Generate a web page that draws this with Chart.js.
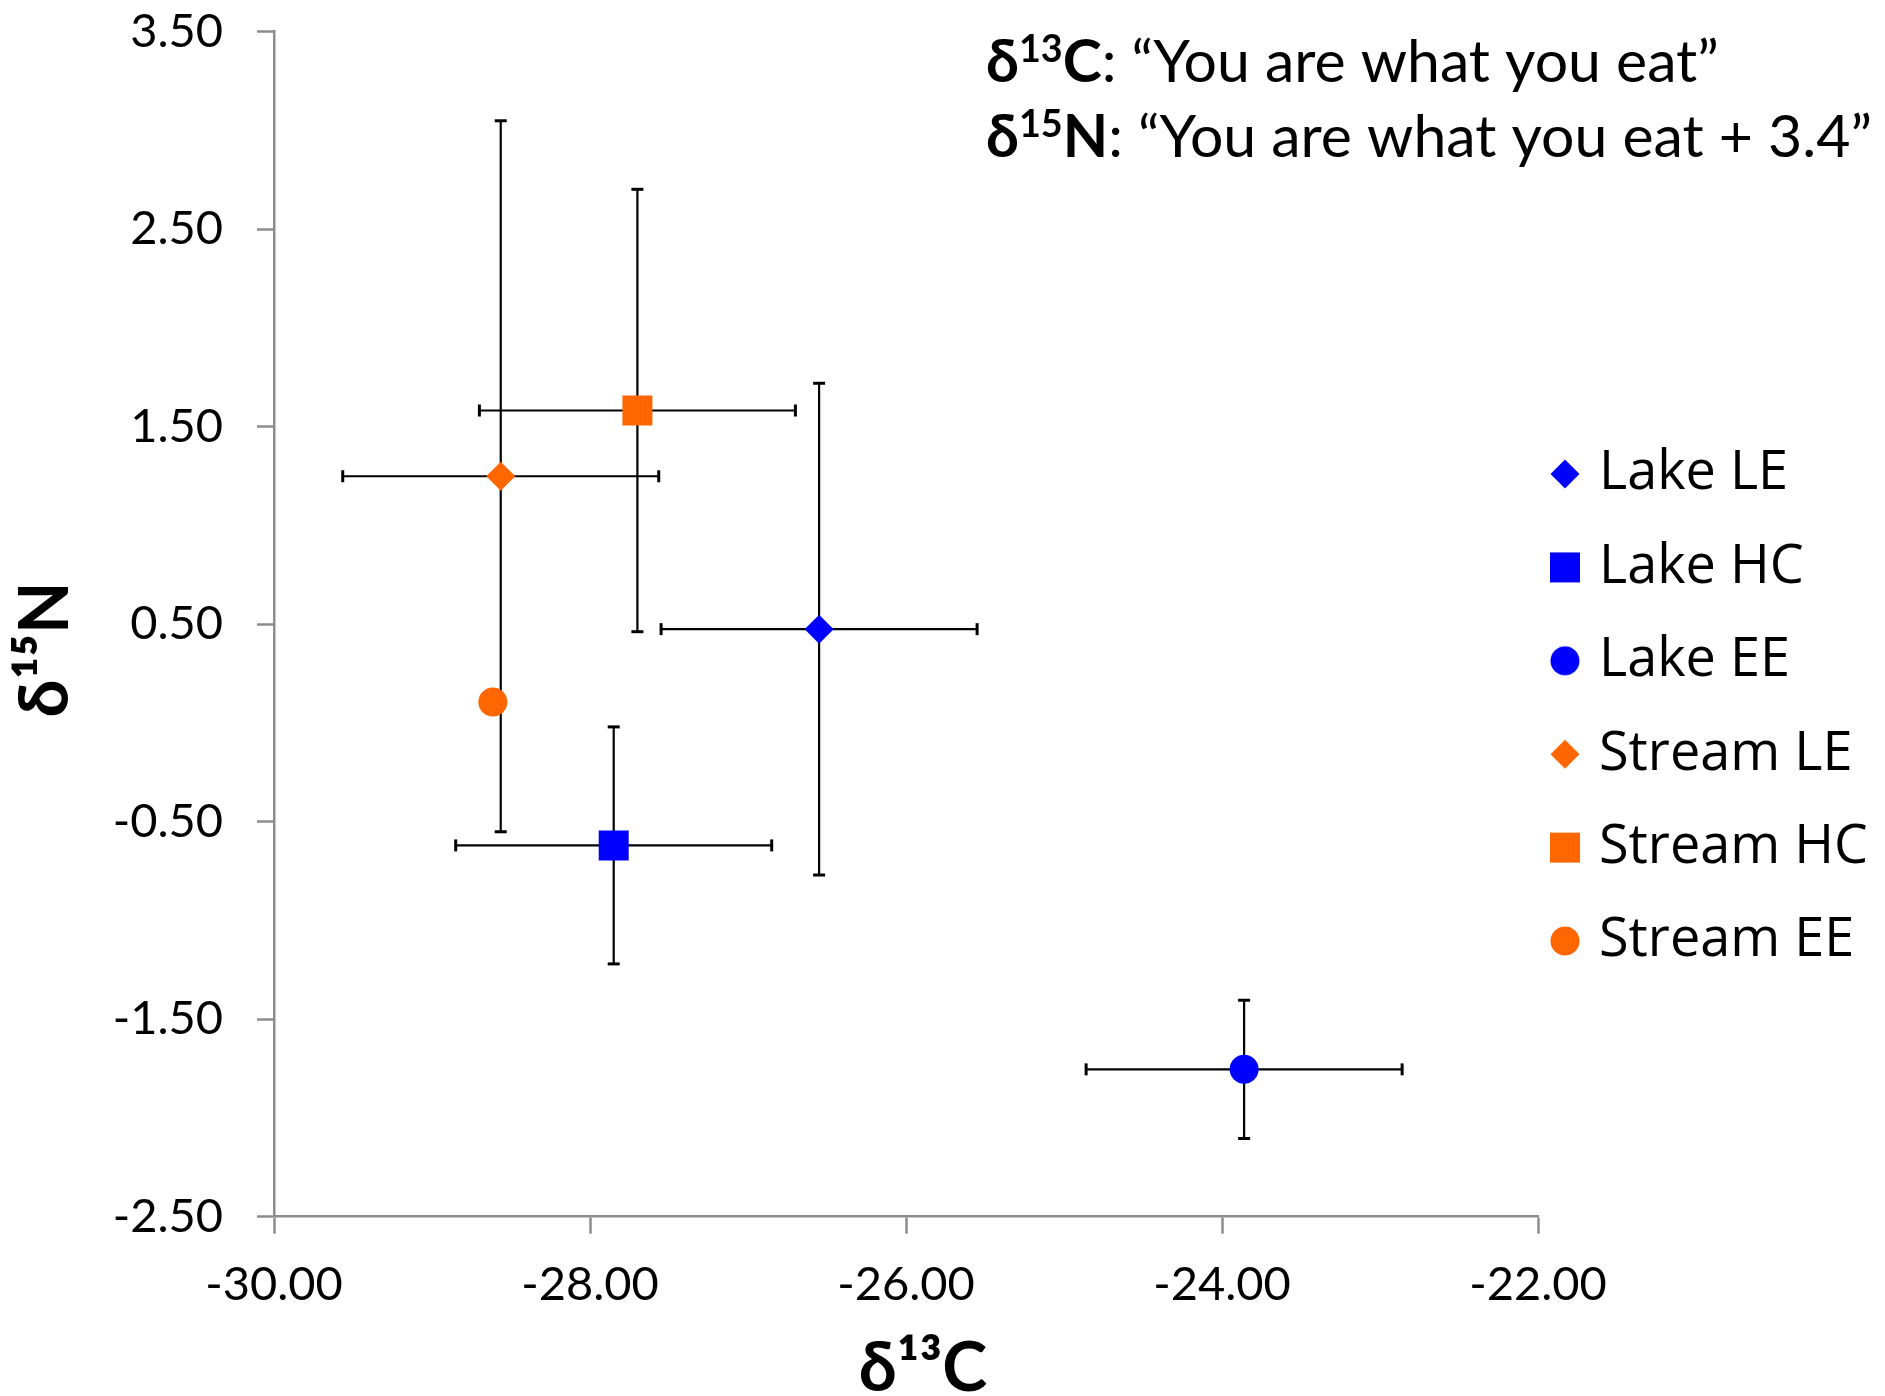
<!DOCTYPE html>
<html>
<head>
<meta charset="utf-8">
<script src="https://cdn.jsdelivr.net/npm/chart.js@4/dist/chart.umd.min.js"></script>
<style>
  html, body { margin: 0; padding: 0; background: #ffffff; }
  #wrap { position: relative; width: 1885px; height: 1396px; }
</style>
</head>
<body>
<div id="wrap"><canvas id="chart"></canvas></div>
<script>
// ---------------- data ----------------
const seriesNames = ['Lake LE', 'Lake HC', 'Lake EE', 'Stream LE', 'Stream HC', 'Stream EE'];
const d13C        = [-26.55, -27.85, -23.86, -28.565, -27.70, -28.615];
const d15N        = [0.475, -0.62, -1.754, 1.249, 1.582, 0.106];
const d13CError   = [1.0, 1.0, 1.0, 1.0, 1.0, 0];
const d15NError   = [1.245, 0.60, 0.35, 1.80, 1.12, 0];

const xTickValues = [-30, -28, -26, -24, -22];
const xTickLabels = ['-30.00', '-28.00', '-26.00', '-24.00', '-22.00'];
const yTickValues = [3.5, 2.5, 1.5, 0.5, -0.5, -1.5, -2.5];
const yTickLabels = ['3.50', '2.50', '1.50', '0.50', '-0.50', '-1.50', '-2.50'];

const xAxisTitle = 'δ¹³C';
const yAxisTitle = 'δ¹⁵N';

const noteLines = [
  [{ t: 'δ', b: true }, { t: '13', b: true, sup: true }, { t: 'C', b: true }, { t: ': “You are what you eat”' }],
  [{ t: 'δ', b: true }, { t: '15', b: true, sup: true }, { t: 'N', b: true }, { t: ': “You are what you eat + 3.4”' }]
];

// ---------------- styles ----------------
const seriesColors = ['#0000FF', '#0000FF', '#0000FF', '#FF6600', '#FF6600', '#FF6600'];
const seriesShapes = ['rectRot', 'rect', 'circle', 'rectRot', 'rect', 'circle'];
const shapeRadius = { rectRot: 14.5, rect: 21.2, circle: 14.5 };
const axisGray = '#8c8c8c';
const tickFont = { family: 'Lato, "DejaVu Sans", sans-serif', size: 47 };
const titleFont = { family: 'Lato, "DejaVu Sans", sans-serif', size: 68, weight: 'bold', lineHeight: 0.78 };
const legendFontSize = 54;
const legendPad = 39.4;

// ---------------- legend marker images ----------------
function markerImage(shape, color) {
  const c = document.createElement('canvas');
  c.width = 34; c.height = 34;
  const g = c.getContext('2d');
  g.fillStyle = color;
  Chart.helpers.drawPoint(g, { pointStyle: shape, radius: shapeRadius[shape], borderWidth: 0, rotation: 0 }, 17, 17);
  return c;
}

// ---------------- plugins ----------------
const errorBars = {
  id: 'errorBars',
  beforeDatasetsDraw(chart) {
    const { ctx } = chart;
    const xs = chart.scales.x, ys = chart.scales.y;
    const seg = (x0, y0, x1, y1, w) => {
      ctx.lineWidth = w;
      ctx.beginPath(); ctx.moveTo(x0, y0); ctx.lineTo(x1, y1); ctx.stroke();
    };
    ctx.save();
    ctx.strokeStyle = '#000000';
    ctx.lineCap = 'butt';
    seriesNames.forEach((name, i) => {
      const px = xs.getPixelForValue(d13C[i]);
      const py = ys.getPixelForValue(d15N[i]);
      const cap = 6;
      if (d13CError[i]) {
        const x0 = xs.getPixelForValue(d13C[i] - d13CError[i]);
        const x1 = xs.getPixelForValue(d13C[i] + d13CError[i]);
        seg(x0, py, x1, py, 2.2);
        seg(x0, py - cap, x0, py + cap, 3);
        seg(x1, py - cap, x1, py + cap, 3);
      }
      if (d15NError[i]) {
        const y0 = ys.getPixelForValue(d15N[i] + d15NError[i]);
        const y1 = ys.getPixelForValue(d15N[i] - d15NError[i]);
        seg(px, y0, px, y1, 2.2);
        seg(px - cap, y0, px + cap, y0, 3);
        seg(px - cap, y1, px + cap, y1, 3);
      }
    });
    ctx.restore();
  }
};

const noteText = {
  id: 'noteText',
  afterDraw(chart) {
    const { ctx } = chart;
    const fam = 'Lato, "DejaVu Sans", sans-serif';
    const left = 986, targetRight = 1872;
    const baselines = [81.5, 156.5];
    const fontFor = (r, fs) => (r.b ? 'bold ' : '') + (r.sup ? fs * 0.64 : fs) + 'px ' + fam;
    const lineWidth = (runs, fs) => runs.reduce((w, r) => { ctx.font = fontFor(r, fs); return w + ctx.measureText(r.t).width; }, 0);
    ctx.save();
    let fs = 50;
    const w2 = lineWidth(noteLines[1], fs);
    fs = fs * (targetRight - left) / w2;
    ctx.fillStyle = '#000000';
    ctx.textBaseline = 'alphabetic';
    ctx.textAlign = 'left';
    noteLines.forEach((runs, li) => {
      let x = left;
      runs.forEach(r => {
        ctx.font = fontFor(r, fs);
        ctx.fillText(r.t, x, baselines[li] - (r.sup ? fs * 0.33 : 0));
        x += ctx.measureText(r.t).width;
      });
    });
    ctx.restore();
  }
};

const legendPlace = {
  id: 'legendPlace',
  afterLayout(chart) {
    const lg = chart.legend;
    if (!lg) return;
    const w = lg.width, h = lg.height;
    lg.left = 1565 - 7 - legendPad;
    lg.right = lg.left + w;
    lg.top = 474 - legendFontSize / 2 - legendPad;
    lg.bottom = lg.top + h;
  }
};

// ---------------- chart ----------------
const datasets = seriesNames.map((name, i) => ({
  label: name,
  data: [{ x: d13C[i], y: d15N[i] }],
  backgroundColor: seriesColors[i],
  borderColor: seriesColors[i],
  borderWidth: 0,
  pointStyle: seriesShapes[i],
  pointRadius: shapeRadius[seriesShapes[i]],
  pointHoverRadius: shapeRadius[seriesShapes[i]],
  showLine: false
}));

const legendMarkers = seriesNames.map((n, i) => markerImage(seriesShapes[i], seriesColors[i]));

new Chart(document.getElementById('chart'), {
  type: 'scatter',
  data: { datasets },
  plugins: [errorBars, noteText, legendPlace],
  options: {
    responsive: true,
    maintainAspectRatio: false,
    animation: false,
    events: [],
    layout: { padding: { top: 0, left: 0, right: 0, bottom: 0 } },
    plugins: {
      tooltip: { enabled: false },
      title: { display: false },
      legend: {
        display: true,
        position: 'right',
        align: 'start',
        maxWidth: 347,
        labels: {
          usePointStyle: true,
          boxWidth: 14,
          padding: legendPad,
          color: '#000000',
          font: { family: '"Open Sans", "Noto Sans", sans-serif', size: legendFontSize },
          generateLabels(chart) {
            const items = Chart.defaults.plugins.legend.labels.generateLabels(chart);
            items.forEach((it, i) => { it.pointStyle = legendMarkers[i]; it.fontColor = '#000000'; });
            return items;
          }
        }
      }
    },
    scales: {
      x: {
        type: 'linear',
        position: 'bottom',
        min: -30,
        max: -22,
        afterBuildTicks(s) { s.ticks = xTickValues.map(v => ({ value: v })); },
        afterFit(s) { s.height = 1396 - 1216.7; },
        ticks: {
          autoSkip: false,
          maxRotation: 0,
          padding: 23.2,
          color: '#000000',
          font: tickFont,
          callback: (v) => xTickLabels[xTickValues.indexOf(v)]
        },
        grid: { display: true, drawOnChartArea: false, drawTicks: true, tickLength: 17, tickColor: axisGray, tickWidth: 2.5 },
        border: { display: true, color: axisGray, width: 2.5 },
        title: { display: true, text: '\u2002' + xAxisTitle, color: '#000000', font: titleFont, padding: 0 }
      },
      y: {
        type: 'linear',
        position: 'left',
        min: -2.5,
        max: 3.5,
        afterBuildTicks(s) { s.ticks = yTickValues.map(v => ({ value: v })); },
        afterFit(s) { s.width = 274; s.paddingTop = 31.7; s.paddingBottom = 20; },
        ticks: {
          autoSkip: false,
          padding: 34,
          color: '#000000',
          font: tickFont,
          callback: (v) => yTickLabels[yTickValues.indexOf(v)]
        },
        grid: { display: true, drawOnChartArea: false, drawTicks: true, tickLength: 17, tickColor: axisGray, tickWidth: 2.5 },
        border: { display: true, color: axisGray, width: 2.5 },
        title: { display: true, text: yAxisTitle + '\u2002 ', color: '#000000', font: titleFont, padding: { top: 20, bottom: 0 } }
      }
    }
  }
});
</script>
</body>
</html>
